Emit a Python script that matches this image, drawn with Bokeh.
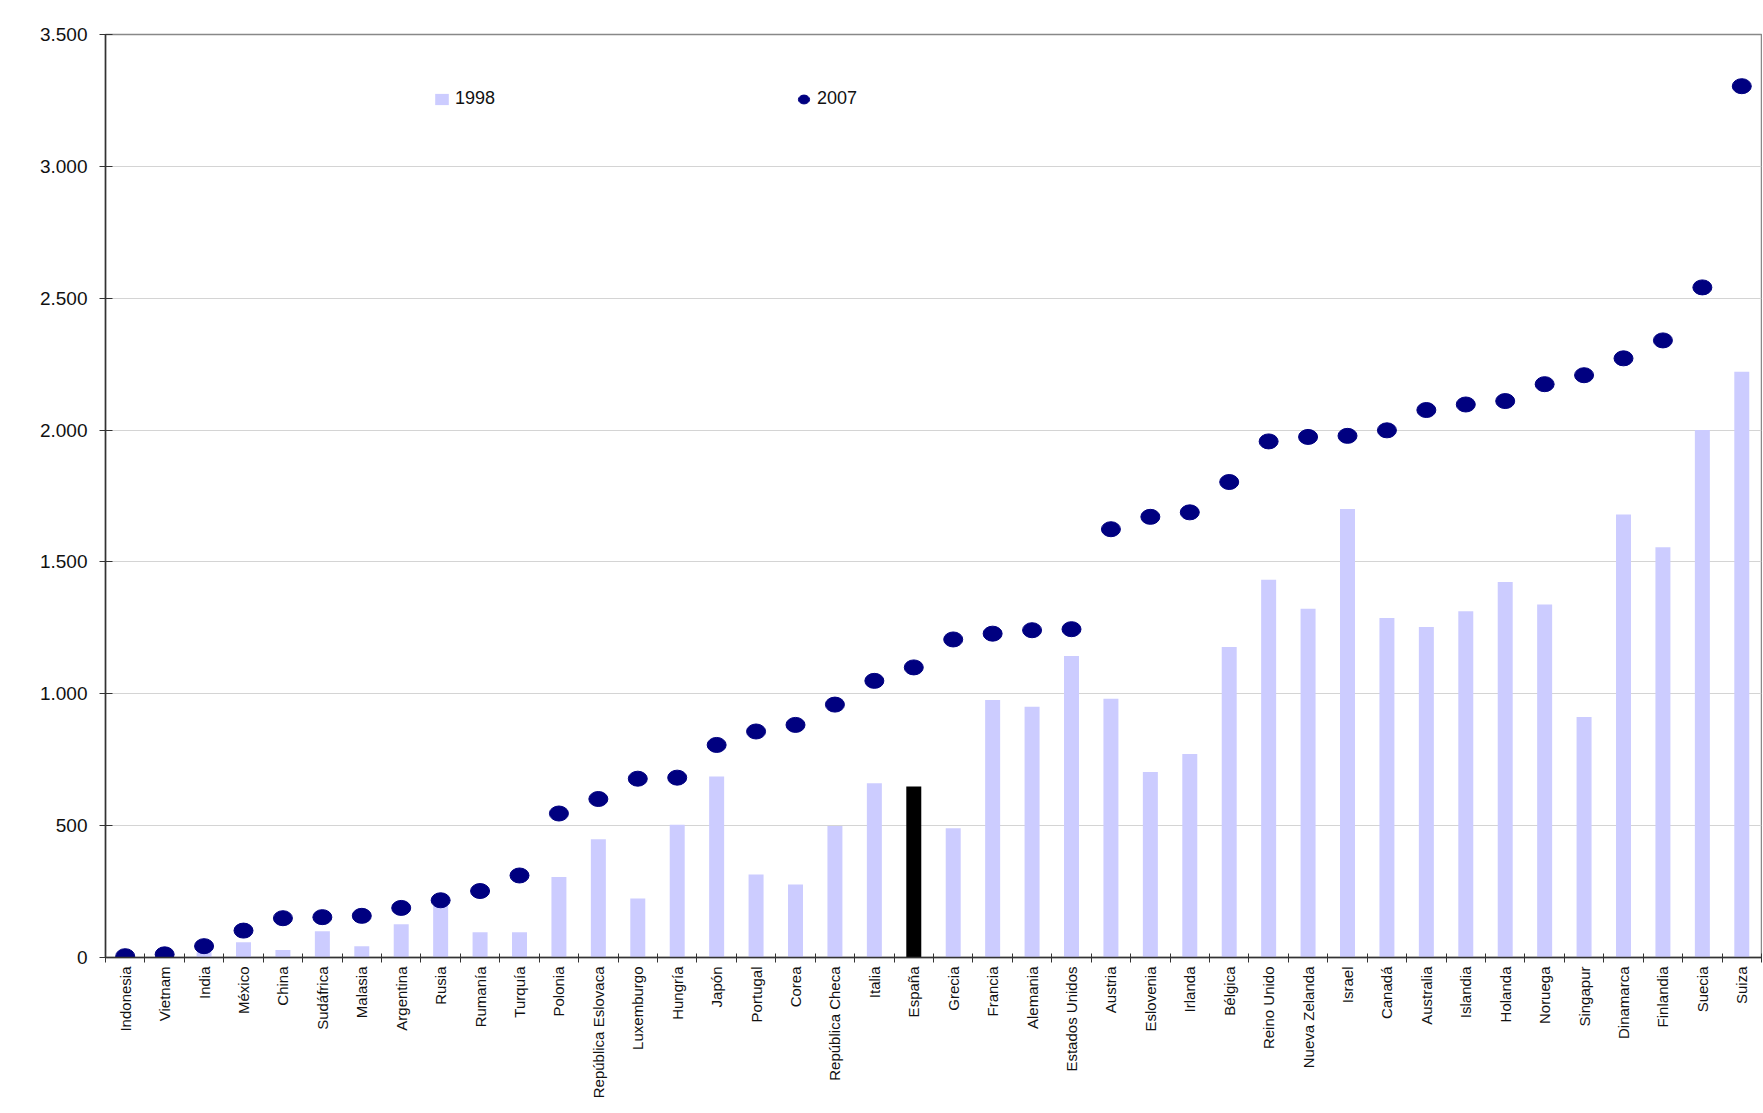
import math
from bokeh.plotting import figure
from bokeh.models import (Range1d, FixedTicker, Legend, LegendItem, ColumnDataSource)
from bokeh.embed import file_html
from bokeh.resources import INLINE

countries = ["Indonesia", "Vietnam", "India", "México", "China", "Sudáfrica", "Malasia",
             "Argentina", "Rusia", "Rumanía", "Turquía", "Polonia", "República Eslovaca",
             "Luxemburgo", "Hungría", "Japón", "Portugal", "Corea", "República Checa",
             "Italia", "España", "Grecia", "Francia", "Alemania", "Estados Unidos",
             "Austria", "Eslovenia", "Irlanda", "Bélgica", "Reino Unido", "Nueva Zelanda",
             "Israel", "Canadá", "Australia", "Islandia", "Holanda", "Noruega", "Singapur",
             "Dinamarca", "Finlandia", "Suecia", "Suiza"]

v1998 = [0, 0, 20, 58, 28, 100, 43, 126, 210, 96, 96, 305, 448, 224, 503, 686, 315, 277,
         499, 661, 648, 490, 976, 951, 1143, 981, 703, 772, 1177, 1432, 1322, 1701, 1287,
         1253, 1313, 1424, 1339, 912, 1680, 1556, 2000, 2221]

v2007 = [5, 12, 43, 102, 149, 153, 158, 188, 217, 252, 311, 546, 601, 678, 682, 806, 857,
         882, 959, 1049, 1100, 1206, 1228, 1241, 1245, 1624, 1671, 1688, 1803, 1957, 1974,
         1978, 1999, 2076, 2097, 2110, 2174, 2208, 2272, 2340, 2541, 3304]

highlight = "España"
y_ticks = [0, 500, 1000, 1500, 2000, 2500, 3000, 3500]
y_tick_labels = ["0", "500", "1.000", "1.500", "2.000", "2.500", "3.000", "3.500"]

n = len(countries)
centers = [i + 0.5 for i in range(n)]
bar_colors = ["#000000" if c == highlight else "#CCCCFF" for c in countries]

src = ColumnDataSource(dict(x=centers, v98=v1998, v07=v2007, color=bar_colors, name=countries))

FONT = "Liberation Sans"

p = figure(width=1762, height=1105, output_backend="svg", toolbar_location=None,
           x_range=Range1d(0, n), y_range=Range1d(0, 3500),
           min_border_left=105, min_border_right=1, min_border_top=34, min_border_bottom=148)

p.outline_line_color = "#888888"
p.outline_line_width = 1.5
p.background_fill_color = "white"
p.border_fill_color = "white"

bars = p.vbar(x="x", top="v98", width=0.38, color="color", line_color=None, source=src)
dots = p.ellipse(x="x", y="v07", width=19, height=15, width_units="screen",
                 height_units="screen", fill_color="#000080", line_color="#000080", source=src)

# x axis: labels at centers, ticks at boundaries
xa = p.xaxis[0]
xa.ticker = FixedTicker(ticks=centers, minor_ticks=list(range(n + 1)))
xa.major_label_overrides = {c: name for c, name in zip(centers, countries)}
xa.major_label_orientation = math.pi / 2
xa.major_tick_in = 0
xa.major_tick_out = 0
xa.minor_tick_in = 4
xa.minor_tick_out = 5
xa.minor_tick_line_color = "#333333"
xa.major_label_standoff = 4
xa.major_label_text_font = FONT
xa.major_label_text_font_size = "15px"
xa.major_label_text_color = "#111111"
xa.axis_line_color = "#333333"
xa.axis_line_width = 1.5

ya = p.yaxis[0]
ya.ticker = FixedTicker(ticks=y_ticks, minor_ticks=[])
ya.major_label_overrides = {t: s for t, s in zip(y_ticks, y_tick_labels)}
ya.major_tick_in = 7
ya.major_tick_out = 6
ya.major_tick_line_color = "#333333"
ya.major_label_standoff = 12
ya.major_label_text_font = FONT
ya.major_label_text_font_size = "19px"
ya.major_label_text_color = "#111111"
ya.axis_line_color = "#333333"
ya.axis_line_width = 1.5

p.xgrid.grid_line_color = None
p.ygrid.ticker = FixedTicker(ticks=y_ticks)
p.ygrid.grid_line_color = "#d4d4d4"
p.ygrid.grid_line_width = 1

legend = Legend(items=[LegendItem(label="1998", renderers=[bars]),
                       LegendItem(label="2007", renderers=[dots])],
                location=(328, 848), orientation="horizontal",
                glyph_width=17, glyph_height=14, label_standoff=5, spacing=300,
                padding=0, margin=0, border_line_color=None,
                background_fill_alpha=0,
                label_text_font=FONT, label_text_font_size="18px",
                label_text_color="#111111")
p.add_layout(legend)

open("out.html", "w").write(file_html(p, INLINE))
